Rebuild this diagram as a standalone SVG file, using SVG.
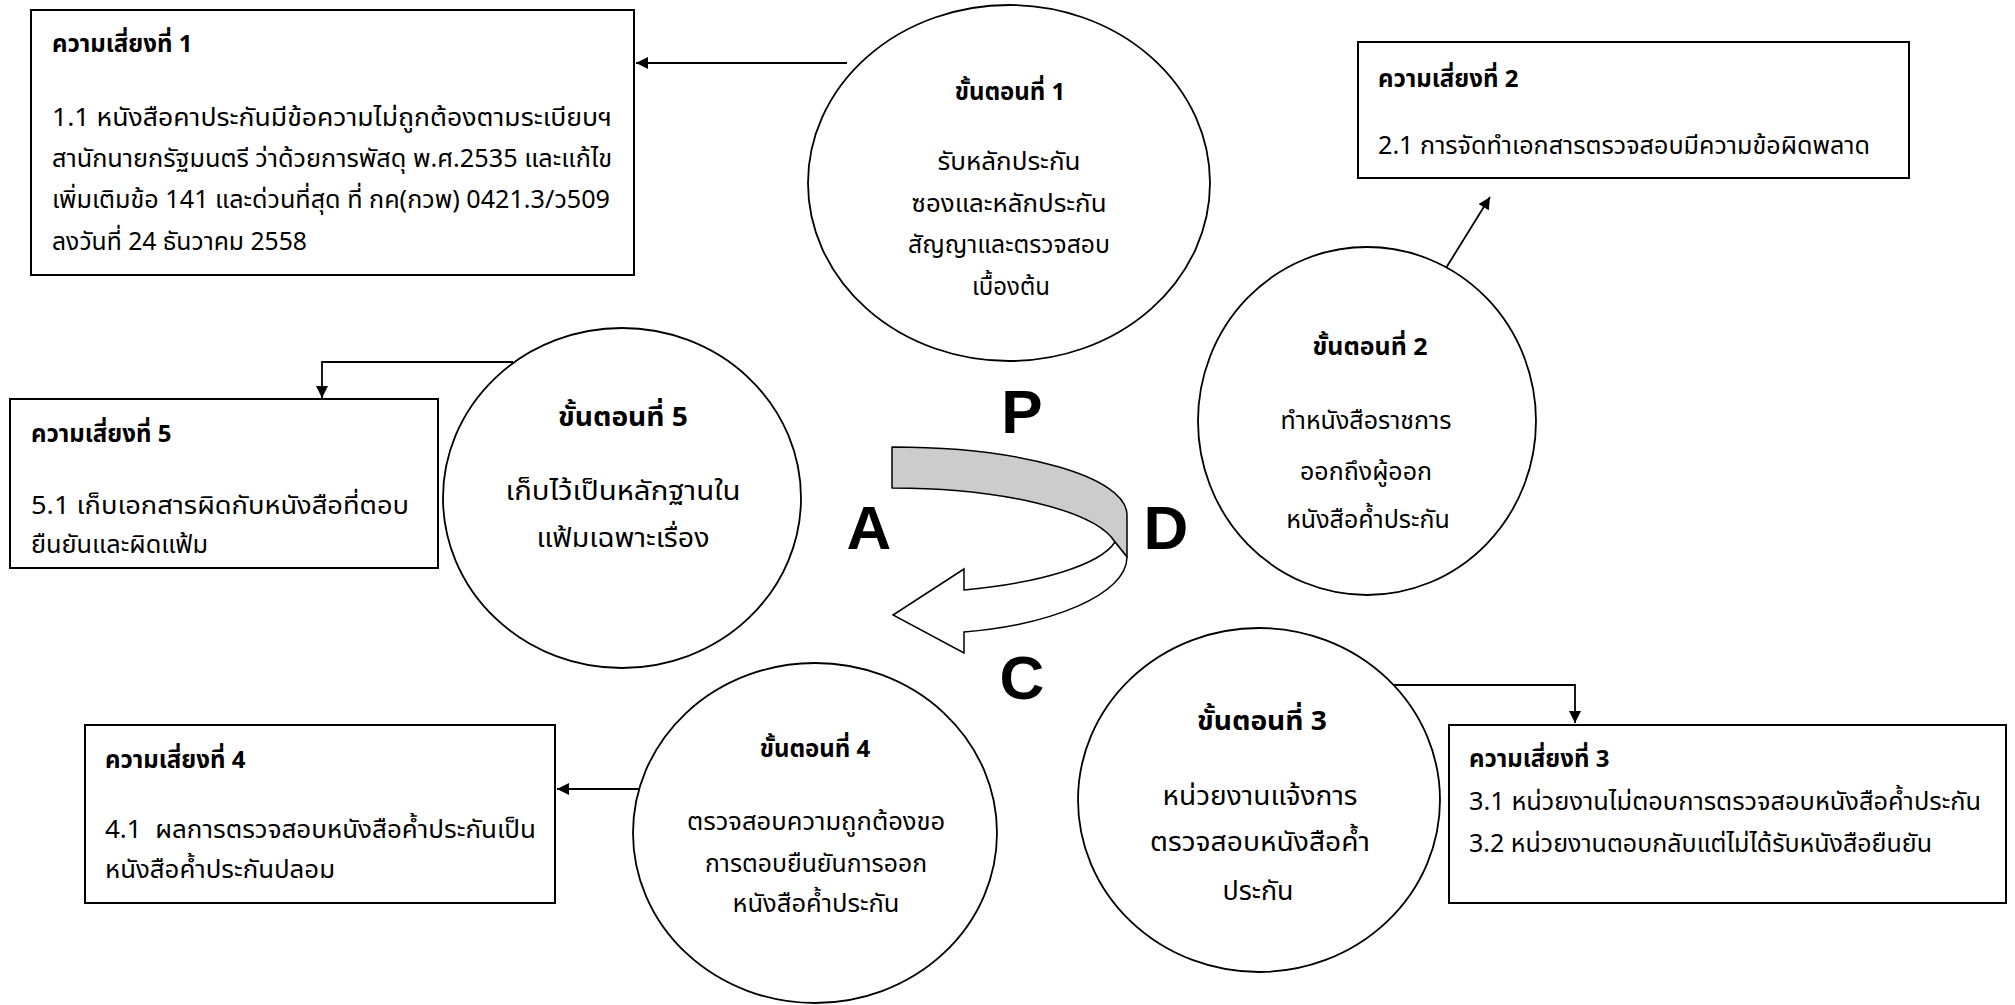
<svg xmlns="http://www.w3.org/2000/svg" width="2015" height="1005" viewBox="0 0 2015 1005">
<style>
.box{fill:#fff;stroke:#000;stroke-width:2}
.node{fill:#fff;stroke:#000;stroke-width:1.8}
.t{font-family:"Noto Sans Thai","Noto Sans",sans-serif;font-size:24px;fill:#000}
.s25{font-size:25px}
.s26{font-size:26px}
.s27{font-size:27px}
.b{font-weight:bold}
.m{text-anchor:middle}
.ln{fill:none;stroke:#000;stroke-width:1.8}
.big{font-family:"Liberation Sans",Arial,sans-serif;font-weight:bold;font-size:62px;fill:#000;text-anchor:middle}
</style>
<defs>
<marker id="ah" viewBox="0 0 10 10" refX="10" refY="5" markerUnits="userSpaceOnUse" markerWidth="15" markerHeight="12" orient="auto">
<path d="M0,0 L10,5 L0,10 z" fill="#000"/>
</marker>
<clipPath id="c4clip"><rect x="600" y="650" width="345" height="360"/></clipPath>
</defs>
<rect width="2015" height="1005" fill="#fff"/>

<g id="connectors">
<path class="ln" d="M847,63 L636,63" marker-end="url(#ah)"/>
<path class="ln" d="M1446,268 L1490,197" marker-end="url(#ah)"/>
<path class="ln" d="M513,362 L322,362 L322,398" marker-end="url(#ah)"/>
<path class="ln" d="M640,789 L557,789" marker-end="url(#ah)"/>
<path class="ln" d="M1390,685 L1575,685 L1575,723" marker-end="url(#ah)"/>
</g>

<g id="risk1">
<rect class="box" x="31" y="10" width="603" height="265"/>
<text class="t b" x="52" y="52">ความเสี่ยงที่ 1</text>
<text class="t s25" x="52" y="126" textLength="560" lengthAdjust="spacingAndGlyphs">1.1 หนังสือคาประกันมีข้อความไม่ถูกต้องตามระเบียบฯ</text>
<text class="t s25" x="52" y="167" textLength="560" lengthAdjust="spacingAndGlyphs">สานักนายกรัฐมนตรี ว่าด้วยการพัสดุ พ.ศ.2535 และแก้ไข</text>
<text class="t s25" x="52" y="208" textLength="558" lengthAdjust="spacingAndGlyphs">เพิ่มเติมข้อ 141 และด่วนที่สุด ที่ กค(กวพ) 0421.3/ว509</text>
<text class="t s25" x="52" y="250" textLength="255" lengthAdjust="spacingAndGlyphs">ลงวันที่ 24 ธันวาคม 2558</text>
</g>

<g id="risk2">
<rect class="box" x="1358" y="42" width="551" height="136"/>
<text class="t b" x="1378" y="87">ความเสี่ยงที่ 2</text>
<text class="t s25" x="1378" y="154" textLength="492" lengthAdjust="spacingAndGlyphs">2.1 การจัดทำเอกสารตรวจสอบมีความข้อผิดพลาด</text>
</g>

<g id="risk3">
<rect class="box" x="1449" y="725" width="557" height="178"/>
<text class="t b" x="1469" y="767">ความเสี่ยงที่ 3</text>
<text class="t s25" x="1469" y="810" textLength="512" lengthAdjust="spacingAndGlyphs">3.1 หน่วยงานไม่ตอบการตรวจสอบหนังสือค้ำประกัน</text>
<text class="t s25" x="1469" y="852" textLength="463" lengthAdjust="spacingAndGlyphs">3.2 หน่วยงานตอบกลับแต่ไม่ได้รับหนังสือยืนยัน</text>
</g>

<g id="risk4">
<rect class="box" x="85" y="725" width="470" height="178"/>
<text class="t b" x="105" y="768">ความเสี่ยงที่ 4</text>
<text class="t s25" x="105" y="838" xml:space="preserve" textLength="431" lengthAdjust="spacingAndGlyphs">4.1  ผลการตรวจสอบหนังสือค้ำประกันเป็น</text>
<text class="t s25" x="105" y="878" textLength="230" lengthAdjust="spacingAndGlyphs">หนังสือค้ำประกันปลอม</text>
</g>

<g id="risk5">
<rect class="box" x="10" y="399" width="428" height="169"/>
<text class="t b" x="31" y="442">ความเสี่ยงที่ 5</text>
<text class="t s25" x="31" y="514" textLength="378" lengthAdjust="spacingAndGlyphs">5.1 เก็บเอกสารผิดกับหนังสือที่ตอบ</text>
<text class="t s25" x="31" y="553" textLength="177" lengthAdjust="spacingAndGlyphs">ยืนยันและผิดแฟ้ม</text>
</g>

<g id="step1">
<ellipse class="node" cx="1009" cy="183" rx="201" ry="178"/>
<text class="t b m" x="1010" y="100">ขั้นตอนที่ 1</text>
<text class="t s25 m" x="1009" y="170" textLength="143" lengthAdjust="spacingAndGlyphs">รับหลักประกัน</text>
<text class="t s25 m" x="1009" y="212" textLength="195" lengthAdjust="spacingAndGlyphs">ซองและหลักประกัน</text>
<text class="t s25 m" x="1009" y="253" textLength="202" lengthAdjust="spacingAndGlyphs">สัญญาและตรวจสอบ</text>
<text class="t s25 m" x="1011" y="295" textLength="78" lengthAdjust="spacingAndGlyphs">เบื้องต้น</text>
</g>

<g id="step2">
<ellipse class="node" cx="1367" cy="421" rx="169" ry="174"/>
<text class="t b m" x="1370" y="355" textLength="115" lengthAdjust="spacingAndGlyphs">ขั้นตอนที่ 2</text>
<text class="t s25 m" x="1366" y="429">ทำหนังสือราชการ</text>
<text class="t s25 m" x="1366" y="480">ออกถึงผู้ออก</text>
<text class="t s25 m" x="1368" y="528">หนังสือค้ำประกัน</text>
</g>

<g id="step3">
<ellipse class="node" cx="1259" cy="800" rx="181" ry="172"/>
<text class="t s27 b m" x="1262" y="730" textLength="130" lengthAdjust="spacingAndGlyphs">ขั้นตอนที่ 3</text>
<text class="t s27 m" x="1260" y="805" textLength="195" lengthAdjust="spacingAndGlyphs">หน่วยงานแจ้งการ</text>
<text class="t s27 m" x="1260" y="851" textLength="220" lengthAdjust="spacingAndGlyphs">ตรวจสอบหนังสือค้ำ</text>
<text class="t s27 m" x="1258" y="900" textLength="71" lengthAdjust="spacingAndGlyphs">ประกัน</text>
</g>

<g id="step4">
<ellipse class="node" cx="815" cy="833" rx="182" ry="170"/>
<text class="t b m" x="815" y="757">ขั้นตอนที่ 4</text>
<text class="t s25" x="687" y="830" textLength="272" lengthAdjust="spacingAndGlyphs" clip-path="url(#c4clip)">ตรวจสอบความถูกต้องของ</text>
<text class="t s25 m" x="816" y="872" textLength="222" lengthAdjust="spacingAndGlyphs">การตอบยืนยันการออก</text>
<text class="t s25 m" x="816" y="912" textLength="167" lengthAdjust="spacingAndGlyphs">หนังสือค้ำประกัน</text>
</g>

<g id="step5">
<ellipse class="node" cx="622" cy="498" rx="179" ry="170"/>
<text class="t s27 b m" x="623" y="426" textLength="130" lengthAdjust="spacingAndGlyphs">ขั้นตอนที่ 5</text>
<text class="t s26 m" x="623" y="500" textLength="235" lengthAdjust="spacingAndGlyphs">เก็บไว้เป็นหลักฐานใน</text>
<text class="t s26 m" x="623" y="547" textLength="173" lengthAdjust="spacingAndGlyphs">แฟ้มเฉพาะเรื่อง</text>
</g>

<g id="pdca">
<path d="M892,447 C1022,447 1127,477 1127,515 L1127,557 L1115,542 C1095,510 1000,488 892,488 Z" fill="#cccccc" stroke="#000" stroke-width="1.5" stroke-linejoin="round"/>
<path d="M1127,557 C1127,595 1050,625 964,632 L964,653 L893,615 L964,569 L964,590 C1040,583 1100,565 1115,542 Z" fill="#fff" stroke="#000" stroke-width="1.5" stroke-linejoin="miter"/>
<text class="big" x="1022" y="433">P</text>
<text class="big" x="1166" y="549">D</text>
<text class="big" x="869" y="549">A</text>
<text class="big" x="1022" y="699">C</text>
</g>
</svg>
